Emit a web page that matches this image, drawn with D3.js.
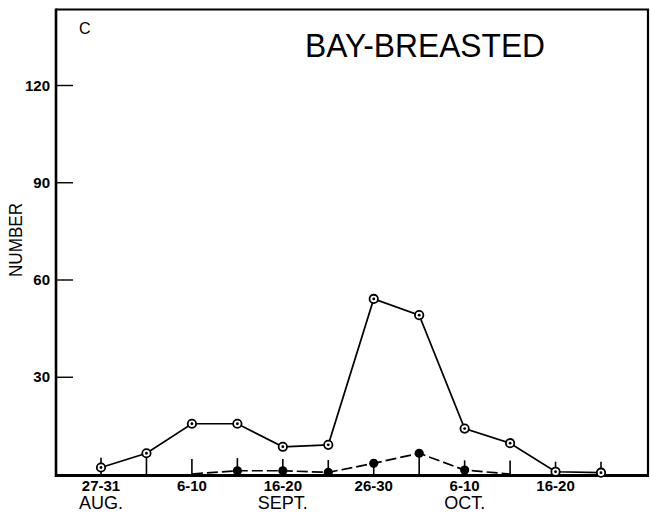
<!DOCTYPE html>
<html>
<head>
<meta charset="utf-8">
<script src="https://cdn.jsdelivr.net/npm/d3@7"></script>
<style>
html,body{margin:0;padding:0;background:#fff;}
svg{display:block;font-family:"Liberation Sans",Arial,sans-serif;}
</style>
</head>
<body>
<svg id="chart" width="650" height="517"></svg>
<script>
// ---- data ----
const periods = ["27-31 Aug","1-5 Sep","6-10 Sep","11-15 Sep","16-20 Sep","21-25 Sep",
                 "26-30 Sep","1-5 Oct","6-10 Oct","11-15 Oct","16-20 Oct","21-25 Oct"];
const openSeries   = [2, 6.4, 15.5, 15.5, 8.4, 9, 54, 49, 14, 9.5, 0.7, 0.4];
const filledSeries = [null, null, 0, 1, 1, 0.5, 3.3, 6.4, 1.2, 0, null, null];
const stemTops     = [5, 6.4, 4.6, 4.9, 4.6, 4.3, 3.3, 6.4, 4.2, 4.2, 3.8, 3.8];
const yTicks = [30, 60, 90, 120];
const yTickLabels = ["30", "60", "90", "120"];
const xLabelPeriods = ["27-31 Aug","6-10 Sep","16-20 Sep","26-30 Sep","6-10 Oct","16-20 Oct"];
const xLabelLine1 = ["27-31","6-10","16-20","26-30","6-10","16-20"];
const xLabelLine2 = ["AUG.","","SEPT.","","OCT.",""];
const title = "BAY-BREASTED";
const panel = "C";
const yTitle = "NUMBER";

// ---- layout ----
(function(){
const svg = d3.select("#chart");
const mLeft = 56, mRight = 648, mTop = 9.5, zeroY = 474;
const x = d3.scalePoint().domain(periods).range([101, 601]);
const y = d3.scaleLinear().domain([0, 120]).range([zeroY, 85]);

// frame: top and right
svg.append("path")
  .attr("d", `M${mLeft},${mTop}H${mRight}V${zeroY+1.5}`)
  .attr("fill","none").attr("stroke","#000").attr("stroke-width",2.2);

// y axis (ticks drawn inward)
const yAxis = d3.axisRight(y).tickValues(yTicks).tickSize(17).tickFormat(()=>"");
const gy = svg.append("g").attr("transform",`translate(${mLeft},0)`).call(yAxis);
gy.select(".domain").remove();
gy.selectAll(".tick line").attr("stroke","#000").attr("stroke-width",1.4);
svg.append("line").attr("x1",mLeft).attr("x2",mLeft).attr("y1",mTop-1).attr("y2",zeroY+3)
  .attr("stroke","#000").attr("stroke-width",2.6);
svg.append("g").selectAll("text").data(yTicks).join("text")
  .attr("x", mLeft-6).attr("y", d=>y(d)+5.5)
  .attr("text-anchor","end").attr("font-size",15).attr("font-weight","bold")
  .text((d,i)=>yTickLabels[i]);

// baseline
svg.append("line").attr("x1",mLeft-1).attr("x2",mRight+1).attr("y1",zeroY+1.5).attr("y2",zeroY+1.5)
  .attr("stroke","#000").attr("stroke-width",3);

// stems / upward ticks
svg.append("g").selectAll("line").data(periods).join("line")
  .attr("x1",d=>x(d)).attr("x2",d=>x(d))
  .attr("y1",zeroY+1).attr("y2",(d,i)=>y(stemTops[i]))
  .attr("stroke","#000").attr("stroke-width",1.6);

// open series line
const openData = periods.map((p,i)=>({p, v: openSeries[i]}));
svg.append("path").datum(openData)
  .attr("d", d3.line().x(d=>x(d.p)).y(d=>y(d.v)))
  .attr("fill","none").attr("stroke","#000").attr("stroke-width",1.7);

// filled series line (dashed)
const filledData = periods.map((p,i)=>({p, v: filledSeries[i]})).filter(d=>d.v!==null);
svg.append("path").datum(filledData)
  .attr("d", d3.line().x(d=>x(d.p)).y(d=>y(d.v)))
  .attr("fill","none").attr("stroke","#000").attr("stroke-width",1.7)
  .attr("stroke-dasharray","11,4");

// open markers
const om = svg.append("g").selectAll("g").data(openData).join("g")
  .attr("transform",d=>`translate(${x(d.p)},${y(d.v)})`);
om.append("circle").attr("r",4.2).attr("fill","#fff").attr("stroke","#000").attr("stroke-width",1.8);
om.append("circle").attr("r",1.4).attr("fill","#000");

// filled markers (endpoints at zero have none)
svg.append("g").selectAll("circle")
  .data(filledData.filter(d=>d.v>0)).join("circle")
  .attr("cx",d=>x(d.p)).attr("cy",d=>y(d.v)).attr("r",4.6).attr("fill","#000");

// x labels
const xl = svg.append("g").selectAll("g").data(xLabelPeriods).join("g")
  .attr("transform",d=>`translate(${x(d)},0)`);
xl.append("text").attr("y",491).attr("text-anchor","middle")
  .attr("font-size",15).attr("font-weight","bold").text((d,i)=>xLabelLine1[i]);
xl.append("text").attr("y",509).attr("text-anchor","middle")
  .attr("font-size",18).text((d,i)=>xLabelLine2[i]);

// y title
svg.append("text").attr("transform","translate(22,240) rotate(-90)")
  .attr("text-anchor","middle").attr("font-size",19).attr("textLength",74)
  .attr("lengthAdjust","spacingAndGlyphs").text(yTitle);

// panel letter and title
svg.append("text").attr("x",79).attr("y",34).attr("font-size",16).text(panel);
svg.append("text").attr("x",305).attr("y",57).attr("font-size",34)
  .attr("textLength",240).attr("lengthAdjust","spacingAndGlyphs").text(title);
})();
</script>
</body>
</html>
